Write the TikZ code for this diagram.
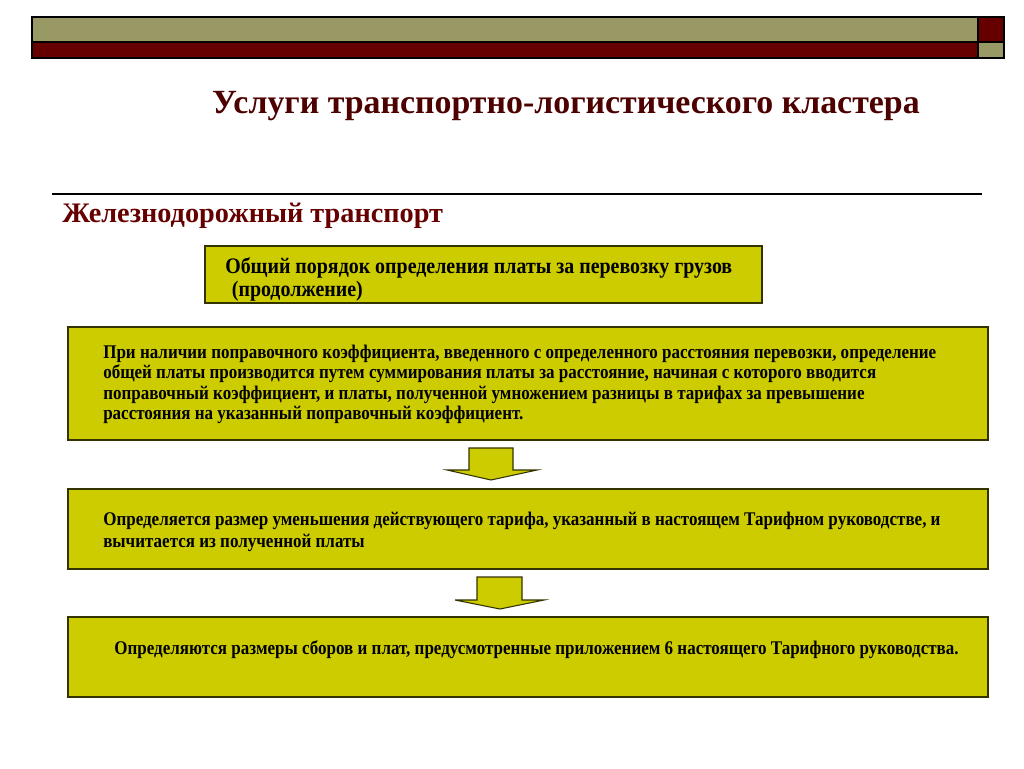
\documentclass[tikz,border=0pt]{standalone}
\usepackage{fontspec}
\setmainfont{Liberation Serif}
\newfontfamily\narrowA[FakeStretch=0.9]{Liberation Serif}
\newfontfamily\narrowB[FakeStretch=0.88]{Liberation Serif}
\definecolor{barolive}{HTML}{999966}
\definecolor{barred}{HTML}{660000}
\definecolor{boxfill}{HTML}{CCCC00}
\definecolor{boxline}{HTML}{333300}
\definecolor{titlecol}{HTML}{4D0000}
\begin{document}
\begin{tikzpicture}[x=0.75pt,y=-0.75pt,
  barbox/.style={draw=black,line width=0.9pt},
  infobox/.style={draw=boxline,fill=boxfill,line width=1pt,rectangle,inner sep=0pt},
  bigtext/.style={font=\narrowA\bfseries\fontsize{16.6pt}{17.3pt}\selectfont,align=left},
  smalltext/.style={font=\narrowB\bfseries\fontsize{14.5pt}{15.2pt}\selectfont},
  blockarrow/.style={draw=boxline,fill=boxfill,line width=0.8pt,line join=miter}]
\useasboundingbox (0,0) rectangle (1024,768);
% top bars
\fill[barolive] (32,17) rectangle (978,42);
\fill[barred] (32,42) rectangle (978,58);
\fill[barred] (978,17) rectangle (1004,42);
\fill[barolive] (978,42) rectangle (1004,58);
\draw[barbox] (32,17) rectangle (1004,58);
\draw[barbox] (32,42) -- (1004,42);
\draw[barbox] (978,17) -- (978,58);
% title
\node[font=\bfseries\fontsize{25.4pt}{30pt}\selectfont,text=titlecol] (title) at (566,106) {Услуги транспортно-логистического кластера};
% rule
\draw[line width=1.3pt] (52,194) -- (982,194);
\node[font=\bfseries\fontsize{21.2pt}{25pt}\selectfont,text=barred,anchor=west,inner sep=0pt] (head) at (62,216) {Железнодорожный транспорт};
% boxes
\node[infobox,minimum width=557*0.75pt,minimum height=57*0.75pt] (b1) at (483.5,274.5) {};
\node[bigtext,anchor=west,inner sep=0pt] (t1) at (225,279) {Общий порядок определения платы за перевозку грузов\\\hspace*{0.3em}(продолжение)};
\node[infobox,minimum width=920*0.75pt,minimum height=113*0.75pt] (b2) at (528,383.5) {};
\node[smalltext,anchor=west,inner sep=0pt,align=left] (t2) at (103,384.5) {При наличии поправочного коэффициента, введенного с определенного расстояния перевозки, определение\\общей платы производится путем суммирования платы за расстояние, начиная с которого вводится\\поправочный коэффициент, и платы, полученной умножением разницы в тарифах за превышение\\расстояния на указанный поправочный коэффициент.};
\node[infobox,minimum width=920*0.75pt,minimum height=80*0.75pt] (b3) at (528,529) {};
\node[smalltext,anchor=west,inner sep=0pt,align=left,font=\narrowB\bfseries\fontsize{14.5pt}{16.5pt}\selectfont] (t3) at (103,532) {Определяется размер уменьшения действующего тарифа, указанный в настоящем Тарифном руководстве, и\\вычитается из полученной платы};
\node[infobox,minimum width=920*0.75pt,minimum height=80*0.75pt] (b4) at (528,657) {};
\node[smalltext,anchor=center,inner sep=0pt] (t4) at (536.5,650) {Определяются размеры сборов и плат, предусмотренные приложением 6 настоящего Тарифного руководства.};
% arrows
\draw[blockarrow] (469,448) -- (513,448) -- (513,470) -- (537,470) -- (491,480) -- (447,470) -- (469,470) -- cycle;
\draw[blockarrow] (477,577) -- (522,577) -- (522,600) -- (544,600) -- (500,609) -- (455,600) -- (477,600) -- cycle;
\end{tikzpicture}
\end{document}
